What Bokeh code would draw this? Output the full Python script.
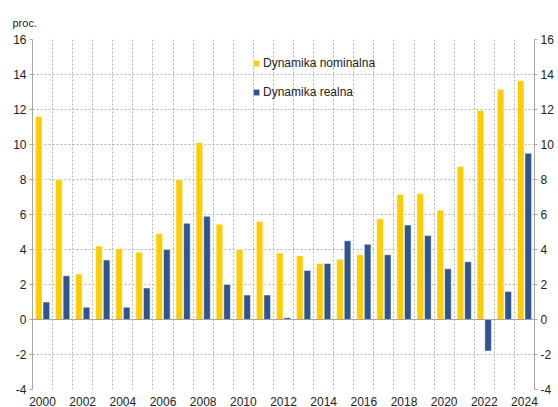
from bokeh.plotting import figure
from bokeh.models import (Range1d, FixedTicker, LinearAxis, Legend, LegendItem,
                          Span, Title, ColumnDataSource)
from bokeh.embed import file_html
from bokeh.resources import INLINE

years = list(range(2000, 2025))
nominal = [11.6, 8.0, 2.6, 4.2, 4.05, 3.85, 4.9, 8.0, 10.1, 5.45, 4.0, 5.6, 3.8,
           3.65, 3.2, 3.45, 3.7, 5.75, 7.15, 7.2, 6.25, 8.75, 11.95, 13.15, 13.65]
real = [1.0, 2.5, 0.7, 3.4, 0.7, 1.8, 4.0, 5.5, 5.9, 2.0, 1.4, 1.4, 0.1,
        2.8, 3.2, 4.5, 4.3, 3.7, 5.4, 4.8, 2.9, 3.3, -1.8, 1.6, 9.5]
y_ticks = [-4, -2, 0, 2, 4, 6, 8, 10, 12, 14, 16]
x_label_years = years[::2]

FONT = "Liberation Sans"
YELLOW = "#FFCC00"
BLUE = "#2E5591"
AXIS = "#A6A6A6"
GRID = "#B4B4B4"

src = ColumnDataSource(dict(
    xn=[y - 0.19 for y in years],
    xr=[y + 0.19 for y in years],
    nominal=nominal, real=real))

p = figure(frame_width=502, frame_height=350, output_backend="svg",
           toolbar_location=None, x_range=Range1d(years[0] - 0.5, years[-1] + 0.5),
           y_range=Range1d(-4, 16), min_border_left=32, min_border_right=24,
           min_border_top=39, min_border_bottom=18, x_axis_location="below")
p.outline_line_color = None
p.background_fill_color = "white"
p.border_fill_color = "white"

r1 = p.vbar(x="xn", top="nominal", bottom=0, width=0.33, source=src,
            fill_color=YELLOW, line_color="white", line_alpha=0.5, line_width=1)
r2 = p.vbar(x="xr", top="real", bottom=0, width=0.33, source=src,
            fill_color=BLUE, line_color="white", line_alpha=0.5, line_width=1)

# axes
p.xaxis.ticker = FixedTicker(ticks=x_label_years)
p.xaxis.axis_line_color = None
p.xaxis.major_tick_line_color = None
p.xaxis.minor_tick_line_color = None
p.xaxis.major_label_standoff = 1
p.xaxis.major_label_text_font = FONT
p.xaxis.major_label_text_font_size = "12px"
p.xaxis.major_label_text_color = "#222222"

overrides = {t: str(t) for t in y_ticks}
right = LinearAxis(ticker=FixedTicker(ticks=y_ticks))
p.add_layout(right, "right")
for ax in [p.yaxis[0], right]:
    ax.ticker = FixedTicker(ticks=y_ticks)
    ax.major_label_overrides = overrides
    ax.axis_line_color = AXIS
    ax.axis_line_width = 1
    ax.major_tick_line_color = AXIS
    ax.major_tick_out = 3
    ax.major_tick_in = 0
    ax.minor_tick_line_color = None
    ax.major_label_standoff = 3
    ax.major_label_text_font = FONT
    ax.major_label_text_font_size = "12px"
    ax.major_label_text_color = "#222222"

# grids
p.ygrid.ticker = FixedTicker(ticks=y_ticks)
p.ygrid.grid_line_color = GRID
p.ygrid.grid_line_dash = "2 2"
p.xgrid.ticker = FixedTicker(ticks=[y + 0.5 for y in years[:-1]])
p.xgrid.grid_line_color = GRID
p.xgrid.grid_line_dash = "2 2"

p.add_layout(Span(location=0, dimension="width", line_color=AXIS, line_width=1))

legend = Legend(items=[LegendItem(label="Dynamika nominalna", renderers=[r1]),
                       LegendItem(label="Dynamika realna", renderers=[r2])],
                location=(220, 287), orientation="vertical")
legend.border_line_color = None
legend.background_fill_alpha = 0
legend.padding = 0
legend.margin = 0
legend.spacing = 9
legend.label_height = 20
legend.glyph_height = 8
legend.glyph_width = 8
legend.label_standoff = 3
legend.label_text_font = FONT
legend.label_text_font_size = "12px"
legend.label_text_color = "#222222"
p.add_layout(legend, "center")

p.add_layout(Title(text="proc.", align="left", offset=-20, standoff=21,
                   text_font=FONT, text_font_size="11px", text_font_style="normal",
                   text_color="#222222"), "above")

open("out.html", "w").write(file_html(p, INLINE))
